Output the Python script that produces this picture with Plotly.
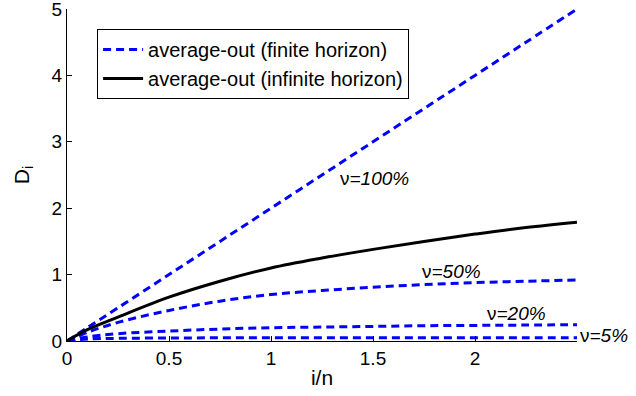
import plotly.graph_objects as go

x_vals = [0, 0.1, 0.25, 0.5, 0.75, 1.0, 1.25, 1.5, 1.75, 2.0, 2.25, 2.5]
d_100 = [0, 0.2, 0.5, 1.0, 1.5, 2.0, 2.5, 3.0, 3.5, 4.0, 4.5, 5.0]
d_50 = [0, 0.13, 0.28, 0.46, 0.60, 0.70, 0.76, 0.81, 0.85, 0.88, 0.90, 0.92]
d_20 = [0, 0.06, 0.11, 0.15, 0.18, 0.20, 0.21, 0.22, 0.23, 0.235, 0.24, 0.245]
d_5 = [0, 0.03, 0.04, 0.045, 0.048, 0.05, 0.05, 0.05, 0.05, 0.05, 0.05, 0.05]
d_inf = [0, 0.17, 0.36, 0.66, 0.90, 1.10, 1.25, 1.38, 1.50, 1.61, 1.71, 1.79]

labels = ["ν<i>=100%</i>", "ν<i>=50%</i>", "ν<i>=20%</i>", "ν<i>=5%</i>"]
label_x = [1.33, 1.73, 2.05, 2.505]
label_y = [2.44, 1.05, 0.42, 0.09]

x_ticks = [0, 0.5, 1, 1.5, 2]
y_ticks = [0, 1, 2, 3, 4, 5]

blue = "#0000ff"
dash = "8px,5px"

fig = go.Figure()
for i, ys in enumerate([d_100, d_50, d_20, d_5]):
    fig.add_trace(go.Scatter(
        x=x_vals, y=ys, mode="lines", line=dict(color=blue, width=3, dash=dash, shape="spline"),
        name="average-out (finite horizon)", showlegend=(i == 0)))
fig.add_trace(go.Scatter(
    x=x_vals, y=d_inf, mode="lines", line=dict(color="black", width=3, shape="spline"),
    name="average-out (infinite horizon)"))

for t, lx, ly in zip(labels, label_x, label_y):
    fig.add_annotation(x=(lx / 2.5), xref="paper", y=ly, yref="y", text=t, showarrow=False,
                       xanchor="left", yanchor="middle", font=dict(size=19, color="black"))

axis_common = dict(showline=True, linecolor="black", linewidth=1, ticks="inside", ticklen=5,
                   tickcolor="black", showgrid=False, zeroline=False, mirror=False,
                   automargin=False, ticklabeloverflow="allow",
                   tickfont=dict(size=19, color="black"))

fig.update_layout(
    width=636, height=396,
    margin=dict(l=67, r=59, t=9, b=55),
    plot_bgcolor="white", paper_bgcolor="white",
    font=dict(family="Liberation Sans, Arial, sans-serif", color="black"),
    xaxis=dict(range=[0, 2.5], tickvals=x_ticks, title=dict(text="i/n", font=dict(size=21), standoff=2), **axis_common),
    yaxis=dict(range=[0, 5], tickvals=y_ticks, title=dict(text="D<sub>i</sub>", font=dict(size=21), standoff=16), **axis_common),
    legend=dict(x=0.059, y=0.94, xanchor="left", yanchor="top", bgcolor="white",
                bordercolor="black", borderwidth=1, font=dict(size=20), tracegroupgap=0,
                itemwidth=40),
)

fig.write_html("out.html", config={"displayModeBar": False},
               post_script="document.body.style.margin='0px';document.body.style.overflow='hidden';")
